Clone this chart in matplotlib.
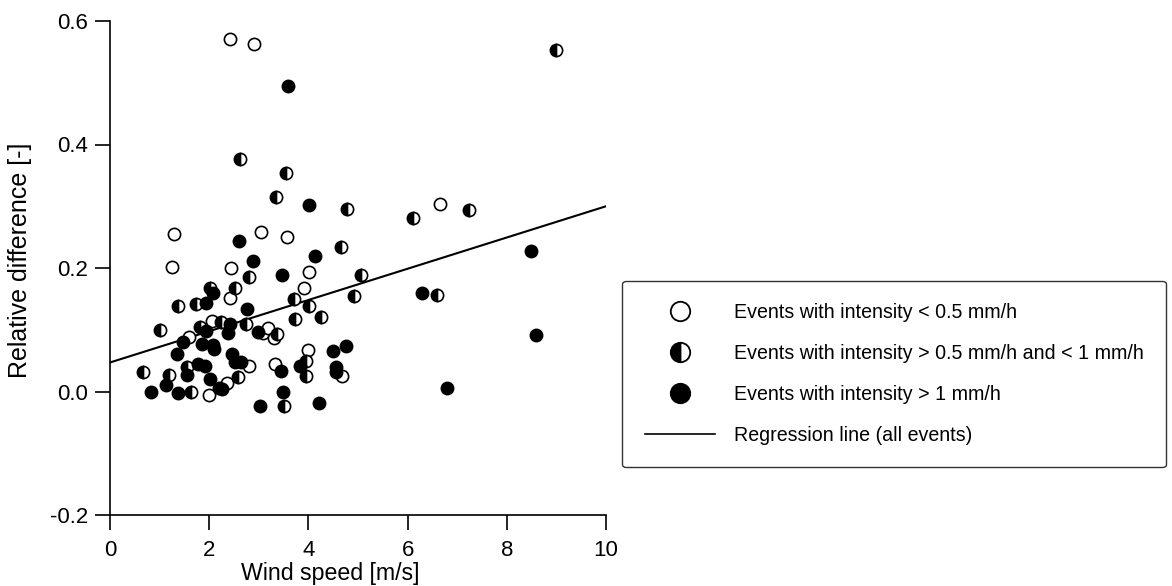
import matplotlib
matplotlib.use("Agg")
import matplotlib.pyplot as plt
from matplotlib.lines import Line2D

plt.rcParams['font.family'] = ['Liberation Sans', 'DejaVu Sans']

# Events with intensity < 0.5 mm/h (open circles)
low_x = [2.41, 2.90, 6.65, 1.29, 3.04, 3.57, 1.26, 2.43, 4.01, 3.91, 2.42, 1.59,
         2.05, 3.08, 3.19, 3.31, 4.00, 2.81, 3.33, 4.67, 2.35, 2.00]
low_y = [0.571, 0.563, 0.303, 0.255, 0.258, 0.250, 0.202, 0.200, 0.194, 0.168, 0.152, 0.089,
         0.114, 0.094, 0.103, 0.086, 0.068, 0.042, 0.045, 0.025, 0.013, -0.006]

# Events with intensity > 0.5 and < 1 mm/h (half-filled circles)
mid_x = [8.99, 2.62, 3.54, 3.35, 4.78, 4.66, 5.06, 4.92, 4.02, 6.10, 7.23, 6.59,
         1.38, 1.73, 2.01, 2.52, 2.81, 3.71, 3.73, 4.26, 1.01, 1.81, 2.24, 2.74,
         3.36, 3.96, 3.96, 0.66, 1.18, 1.55, 2.59, 1.63, 3.51]
mid_y = [0.553, 0.376, 0.354, 0.315, 0.295, 0.234, 0.188, 0.154, 0.138, 0.281, 0.294, 0.156,
         0.139, 0.142, 0.167, 0.167, 0.186, 0.150, 0.118, 0.120, 0.100, 0.104, 0.112, 0.110,
         0.093, 0.049, 0.025, 0.031, 0.026, 0.039, 0.024, -0.001, -0.024]

# Events with intensity > 1 mm/h (filled circles)
high_x = [3.58, 4.02, 4.13, 2.61, 2.89, 3.47, 2.07, 1.94, 2.76, 2.41, 1.94, 2.37,
          1.48, 1.85, 2.08, 2.10, 1.36, 2.45, 2.52, 2.64, 1.78, 1.92, 1.56, 2.02,
          2.20, 2.25, 0.83, 1.12, 1.38, 2.99, 3.45, 3.83, 3.49, 3.02, 4.21, 4.50,
          4.76, 4.56, 4.56, 8.48, 6.29, 8.58, 6.79]
high_y = [0.494, 0.302, 0.219, 0.244, 0.211, 0.189, 0.159, 0.144, 0.134, 0.110, 0.098, 0.095,
          0.080, 0.077, 0.076, 0.069, 0.061, 0.061, 0.048, 0.048, 0.045, 0.042, 0.026, 0.020,
          0.006, 0.004, 0.000, 0.011, -0.003, 0.097, 0.033, 0.041, 0.000, -0.024, -0.018, 0.065,
          0.073, 0.039, 0.031, 0.227, 0.160, 0.092, 0.006]

# Regression line (all events)
reg_intercept = 0.047
reg_slope = 0.0253
reg_x = [0, 10]

x_ticks = [0, 2, 4, 6, 8, 10]
y_ticks = [-0.2, 0.0, 0.2, 0.4, 0.6]
y_ticklabels = ['-0.2', '0.0', '0.2', '0.4', '0.6']

labels = ['Events with intensity < 0.5 mm/h',
          'Events with intensity > 0.5 mm/h and < 1 mm/h',
          'Events with intensity > 1 mm/h',
          'Regression line (all events)']

fig = plt.figure(figsize=(11.72, 5.86), dpi=100)
ax = fig.add_axes([110/1172, 1 - 515/586, (606-110)/1172, (515-21)/586])

ms = 8.8
mew = 1.2
reg_y = [reg_intercept + reg_slope * v for v in reg_x]
ax.plot(reg_x, reg_y, color='black', lw=1.5, zorder=2)
ax.plot(low_x, low_y, 'o', ms=ms, mfc='white', mec='black', mew=mew, ls='none', zorder=3)
ax.plot(mid_x, mid_y, 'o', ms=ms, fillstyle='left', mfc='black', mfcalt='white',
        mec='black', mew=mew, ls='none', zorder=3)
ax.plot(high_x, high_y, 'o', ms=ms, mfc='black', mec='black', mew=mew, ls='none', zorder=3)

ax.set_xlim(0, 10)
ax.set_ylim(-0.2, 0.6)
ax.set_xticks(x_ticks)
ax.set_yticks(y_ticks)
ax.set_yticklabels(y_ticklabels)
for s in ['top', 'right']:
    ax.spines[s].set_visible(False)
for s in ['left', 'bottom']:
    ax.spines[s].set_linewidth(1.2)
ax.tick_params(direction='out', length=11, width=1.2, labelsize=16)
ax.tick_params(axis='x', pad=7)
ax.tick_params(axis='y', pad=5)
ax.set_xlabel('Wind speed [m/s]', fontsize=16.7, va='center')
ax.xaxis.set_label_coords(0.444, -0.119)
ax.set_ylabel('Relative difference [-]', fontsize=18, va='center')
ax.yaxis.set_label_coords(-0.181, 0.516)

handles = [
    Line2D([], [], marker='o', ms=14, mfc='white', mec='black', mew=1.3, ls='none'),
    Line2D([], [], marker='o', ms=14, fillstyle='left', mfc='black', mfcalt='white',
           mec='black', mew=1.3, ls='none'),
    Line2D([], [], marker='o', ms=14, mfc='black', mec='black', mew=1.3, ls='none'),
    Line2D([], [], color='black', lw=1.2),
]
leg = fig.legend(handles, labels, loc='center left',
                 bbox_to_anchor=(622/1172, 1 - 374/586),
                 fontsize=14.1, frameon=True, fancybox=True, edgecolor='black',
                 handlelength=3.6, handletextpad=0.95, labelspacing=1.12,
                 borderpad=1.15, borderaxespad=0)
leg.get_frame().set_linewidth(1.0)

fig.savefig('out.png', dpi=100, facecolor='white')
